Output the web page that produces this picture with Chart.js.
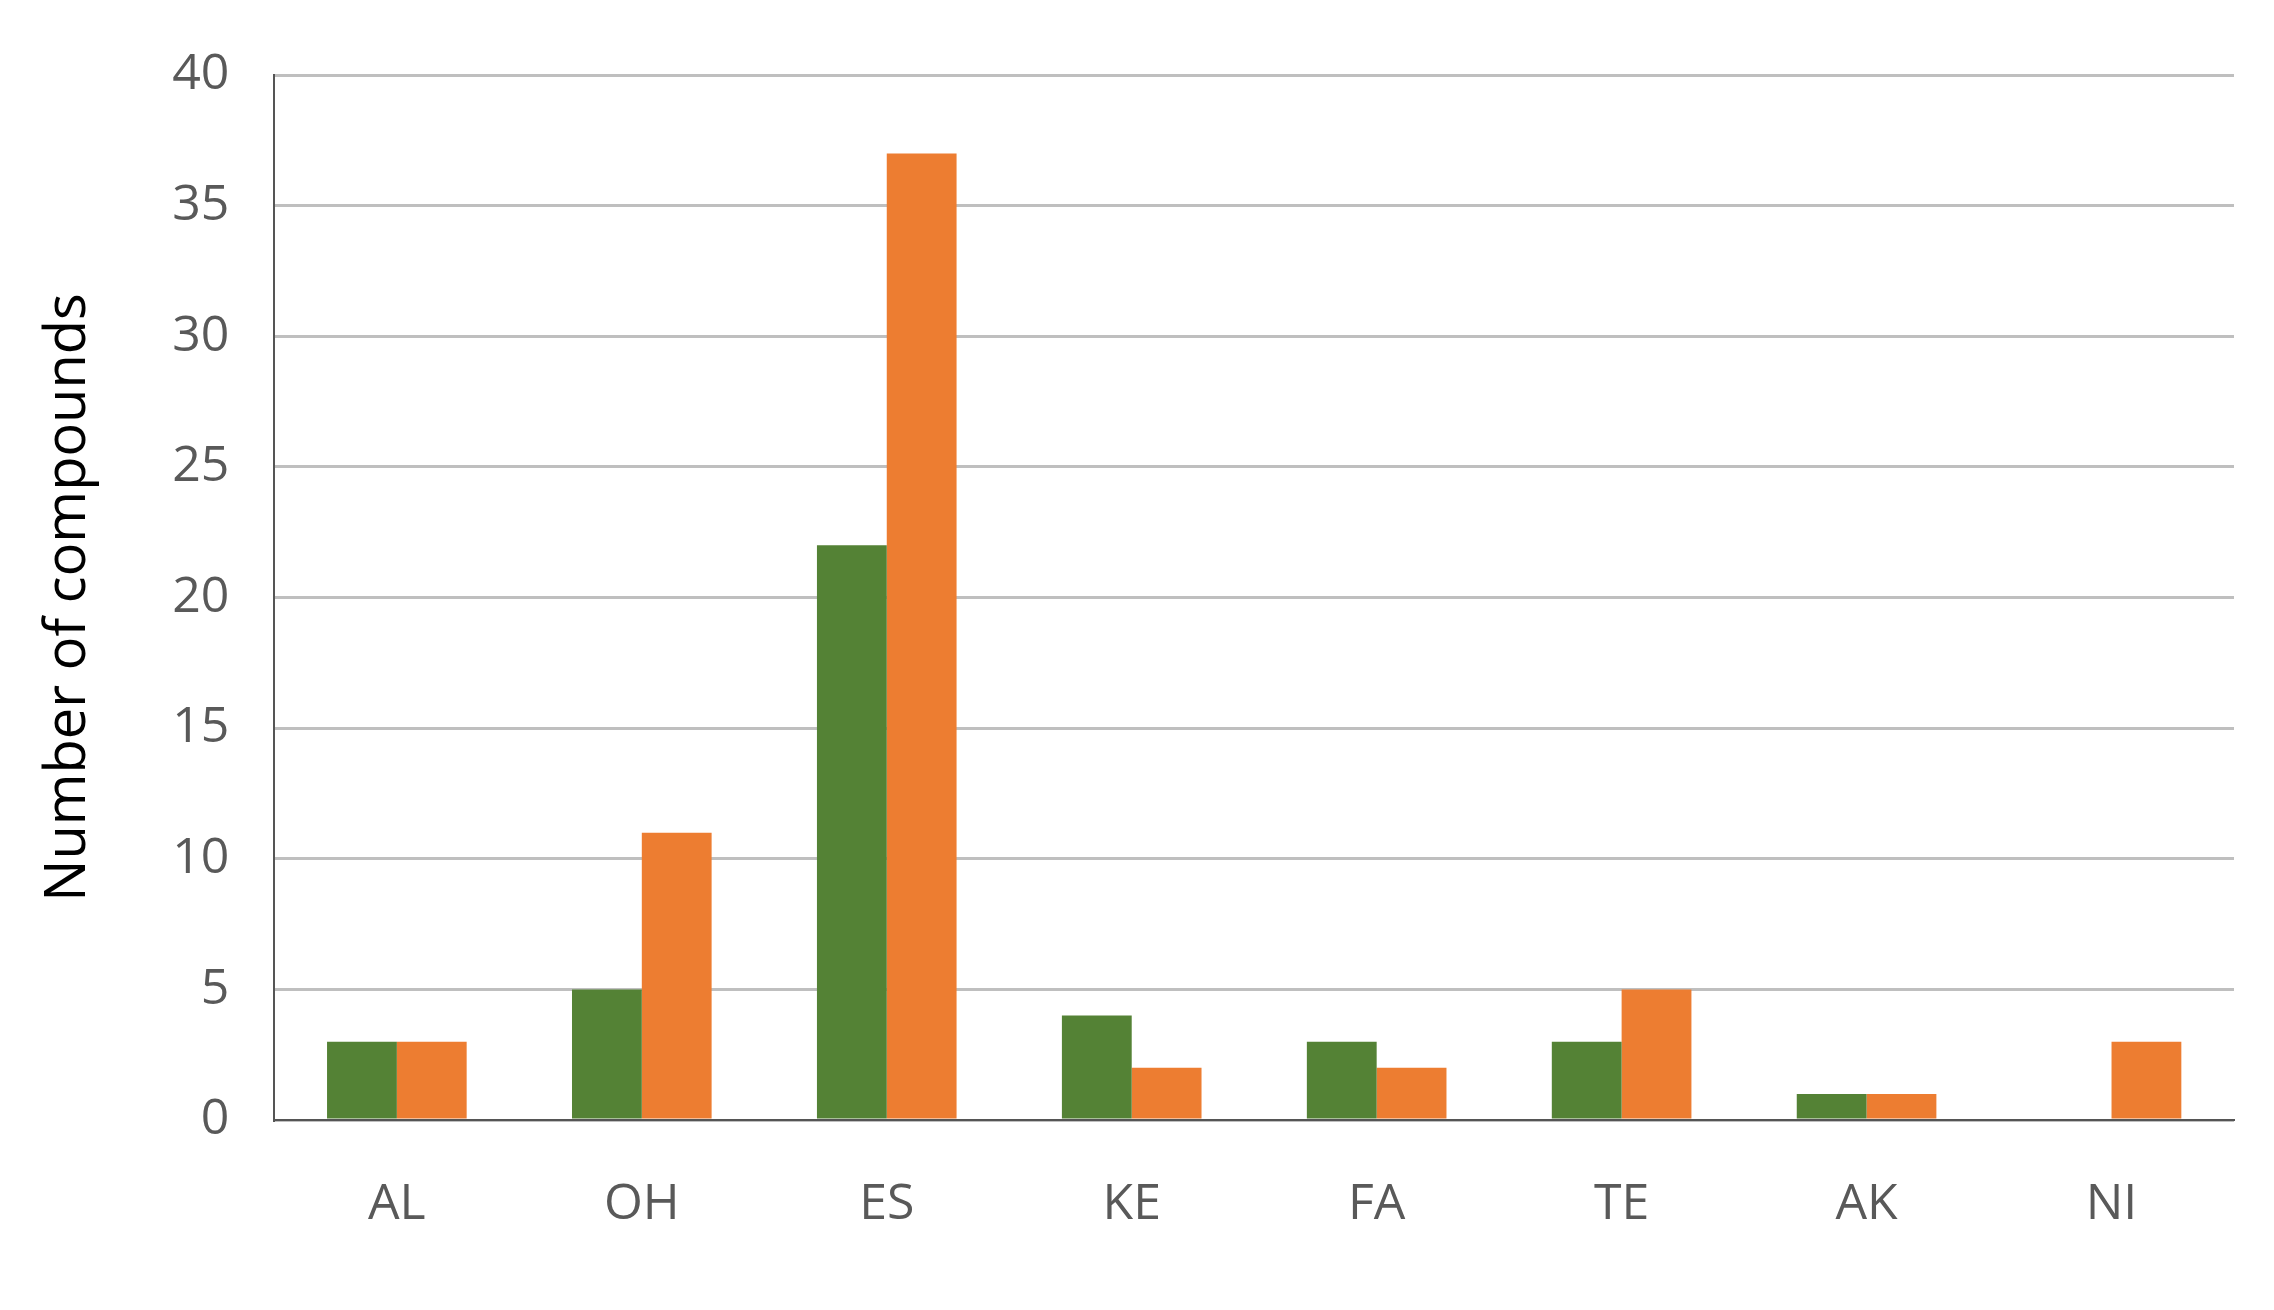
<!DOCTYPE html>
<html>
<head>
<script src="https://cdn.jsdelivr.net/npm/chart.js@4/dist/chart.umd.min.js"></script>
<style>
  html, body { margin: 0; padding: 0; background: #fff; }
  #wrap { width: 2274px; height: 1310px; }
</style>
</head>
<body>
<div id="wrap"><canvas id="chart"></canvas></div>
<script>
const categories = ["AL", "OH", "ES", "KE", "FA", "TE", "AK", "NI"];
const greenValues = [3, 5, 22, 4, 3, 3, 1, 0];
const orangeValues = [3, 11, 37, 2, 2, 5, 1, 3];
const yTicks = [0, 5, 10, 15, 20, 25, 30, 35, 40];

const ctx = document.getElementById("chart").getContext("2d");
new Chart(ctx, {
    type: "bar",
    data: {
        labels: categories,
        datasets: [
            { data: greenValues, backgroundColor: "#548235" },
            { data: orangeValues, backgroundColor: "#ED7D31" }
        ]
    },
    options: {
        responsive: true,
        maintainAspectRatio: false,
        animation: false,
        layout: { padding: { top: 30, right: 40, bottom: 20, left: 10 } },
        plugins: { legend: { display: false }, tooltip: { enabled: false } },
        datasets: { bar: { barPercentage: 1, categoryPercentage: 0.57 } },
        scales: {
            x: {
                grid: { display: false, drawTicks: false },
                border: { color: "#555", width: 2 },
                ticks: { color: "#595959", font: { family: "Open Sans", size: 50 }, padding: 55 }
            },
            y: {
                min: 0,
                max: 40,
                afterBuildTicks: axis => { axis.ticks = yTicks.map(v => ({ value: v })); },
                grid: { color: "#bfbfbf", lineWidth: 3, drawTicks: false },
                border: { color: "#555", width: 2 },
                ticks: { color: "#595959", font: { family: "Open Sans", size: 50 }, padding: 45 },
                title: {
                    display: true,
                    text: "Number of compounds",
                    color: "#000",
                    font: { family: "Open Sans", size: 56 },
                    padding: 25
                }
            }
        }
    }
});
</script>
</body>
</html>
